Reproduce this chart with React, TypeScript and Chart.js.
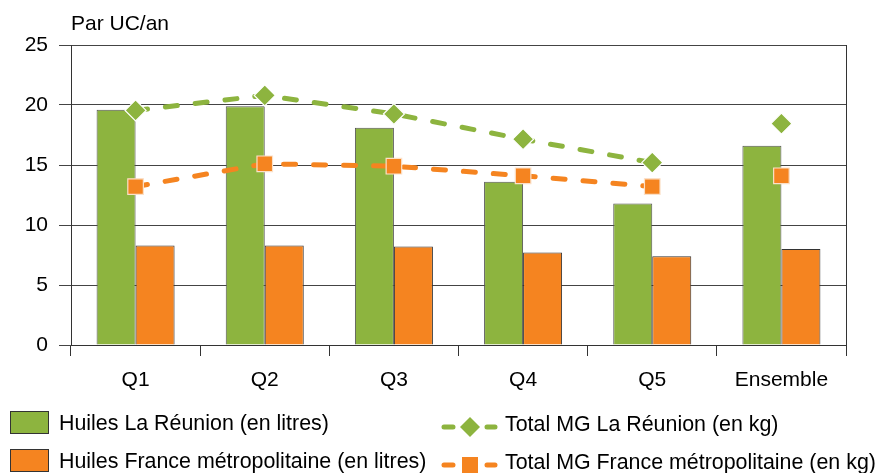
import React, { useEffect, useRef } from "react";
import { Chart, registerables } from "chart.js";

Chart.register(...registerables);

const categories = ["Q1", "Q2", "Q3", "Q4", "Q5", "Ensemble"];
const huilesReunion = [19.6, 19.9, 18.1, 13.6, 11.8, 16.6];
const huilesFrance = [8.3, 8.3, 8.2, 7.7, 7.4, 8.0];
const totalMGReunion = [19.55, 20.8, 19.25, 17.15, 15.2, 18.45];
const totalMGFrance = [13.2, 15.1, 14.9, 14.1, 13.2, 14.1];
const yTicks = [0, 5, 10, 15, 20, 25];

const GREEN = "#8DB43F";
const ORANGE = "#F58420";
const FONT = "'Liberation Sans', Arial, sans-serif";

const legendItems = [
  { label: "Huiles La Réunion (en litres)", type: "box", color: GREEN },
  { label: "Huiles France métropolitaine (en litres)", type: "box", color: ORANGE },
  { label: "Total MG La Réunion (en kg)", type: "line", color: GREEN, point: "rectRot" },
  { label: "Total MG France métropolitaine (en kg)", type: "line", color: ORANGE, point: "rect" },
];

const extras = {
  id: "extras",
  afterDraw(chart: any) {
    const ctx = chart.ctx;
    const area = chart.chartArea;
    ctx.save();
    // right border
    ctx.strokeStyle = "#333";
    ctx.lineWidth = 1;
    ctx.beginPath();
    ctx.moveTo(Math.round(area.right) + 0.5, area.top);
    ctx.lineTo(Math.round(area.right) + 0.5, area.bottom);
    ctx.stroke();
    // unit label
    ctx.fillStyle = "#000";
    ctx.font = `21px ${FONT}`;
    ctx.textAlign = "left";
    ctx.textBaseline = "alphabetic";
    ctx.fillText("Par UC/an", 71, 29.5);
    // legend
    const rows = [423, 461];
    legendItems.forEach((it, i) => {
      const row = rows[i % 2];
      const col = i < 2 ? 0 : 1;
      if (col === 0) {
        ctx.fillStyle = it.color;
        ctx.fillRect(10, row - 12, 39, 23);
        ctx.strokeStyle = "#333";
        ctx.lineWidth = 1;
        ctx.strokeRect(10.5, row - 11.5, 38, 22);
        ctx.fillStyle = "#000";
        ctx.font = `21.4px ${FONT}`;
        ctx.textBaseline = "middle";
        ctx.fillText(it.label, 59, row + 1);
      } else {
        const cy = row + 4;
        ctx.strokeStyle = it.color;
        ctx.lineWidth = 5;
        ctx.lineCap = "round";
        ctx.beginPath();
        ctx.moveTo(444, cy);
        ctx.lineTo(453, cy);
        ctx.moveTo(487, cy);
        ctx.lineTo(495, cy);
        ctx.stroke();
        ctx.fillStyle = it.color;
        ctx.beginPath();
        if (it.point === "rectRot") {
          const r = 10;
          ctx.moveTo(470, cy - r);
          ctx.lineTo(470 + r, cy);
          ctx.lineTo(470, cy + r);
          ctx.lineTo(470 - r, cy);
          ctx.closePath();
        } else {
          ctx.rect(470 - 8, cy - 8, 16, 16);
        }
        ctx.fill();
        ctx.fillStyle = "#000";
        ctx.font = `21.4px ${FONT}`;
        ctx.textBaseline = "middle";
        ctx.fillText(it.label, 505, cy - 2);
      }
    });
    ctx.restore();
  },
};

export default function App() {
  const ref = useRef<HTMLCanvasElement | null>(null);
  useEffect(() => {
    document.body.style.margin = "0";
    const canvas = ref.current;
    if (!canvas) return;
    const hideLast = (ctx: any) => (ctx.p1DataIndex === categories.length - 1 ? "rgba(0,0,0,0)" : undefined);
    const chart = new Chart(canvas, {
      type: "bar",
      data: {
        labels: categories,
        datasets: [
          {
            type: "line",
            label: "Total MG La Réunion (en kg)",
            data: totalMGReunion,
            borderColor: GREEN,
            backgroundColor: GREEN,
            borderWidth: 5,
            borderDash: [12, 18],
            borderCapStyle: "round",
            pointStyle: "rectRot",
            pointRadius: 10.5,
            pointBorderColor: "#fff",
            pointBorderWidth: 1.2,
            pointBackgroundColor: GREEN,
            tension: 0,
            order: 0,
            segment: { borderColor: hideLast },
          } as any,
          {
            type: "line",
            label: "Total MG France métropolitaine (en kg)",
            data: totalMGFrance,
            borderColor: ORANGE,
            backgroundColor: ORANGE,
            borderWidth: 5,
            borderDash: [12, 18],
            borderCapStyle: "round",
            pointStyle: "rect",
            pointRadius: 11,
            pointBorderColor: "#fbe0c8",
            pointBorderWidth: 1.2,
            pointBackgroundColor: ORANGE,
            tension: 0,
            order: 0,
            segment: { borderColor: hideLast },
          } as any,
          {
            label: "Huiles La Réunion (en litres)",
            data: huilesReunion,
            backgroundColor: GREEN,
            borderColor: "#555",
            borderWidth: 1,
            categoryPercentage: 0.604,
            barPercentage: 1.0,
            order: 1,
          },
          {
            label: "Huiles France métropolitaine (en litres)",
            data: huilesFrance,
            backgroundColor: ORANGE,
            borderColor: "#333",
            borderWidth: 1,
            categoryPercentage: 0.604,
            barPercentage: 1.0,
            order: 1,
          },
        ],
      },
      options: {
        responsive: false,
        animation: false,
        events: [],
        layout: { padding: { top: 45, right: 31, left: 0, bottom: 0 } },
        plugins: { legend: { display: false }, tooltip: { enabled: false }, title: { display: false } },
        scales: {
          x: {
            offset: true,
            afterFit: (s: any) => {
              s.height = 128;
            },
            grid: {
              display: true,
              offset: true,
              drawOnChartArea: false,
              drawTicks: true,
              tickLength: 11,
              color: "#333",
            },
            border: { display: true, color: "#333" },
            ticks: { color: "#000", font: { family: FONT, size: 21 }, padding: 12 },
          },
          y: {
            min: 0,
            max: 25,
            afterFit: (s: any) => {
              s.width = 71;
            },
            afterBuildTicks: (s: any) => {
              s.ticks = yTicks.map((v) => ({ value: v }));
            },
            grid: { color: "#444", tickLength: 12, drawTicks: true },
            border: { display: true, color: "#333" },
            ticks: { color: "#000", font: { family: FONT, size: 21 }, padding: 11 },
          },
        },
      },
      plugins: [extras],
    });
    return () => chart.destroy();
  }, []);
  return (
    <div style={{ width: 877, height: 473 }}>
      <canvas ref={ref} width={877} height={473} />
    </div>
  );
}
